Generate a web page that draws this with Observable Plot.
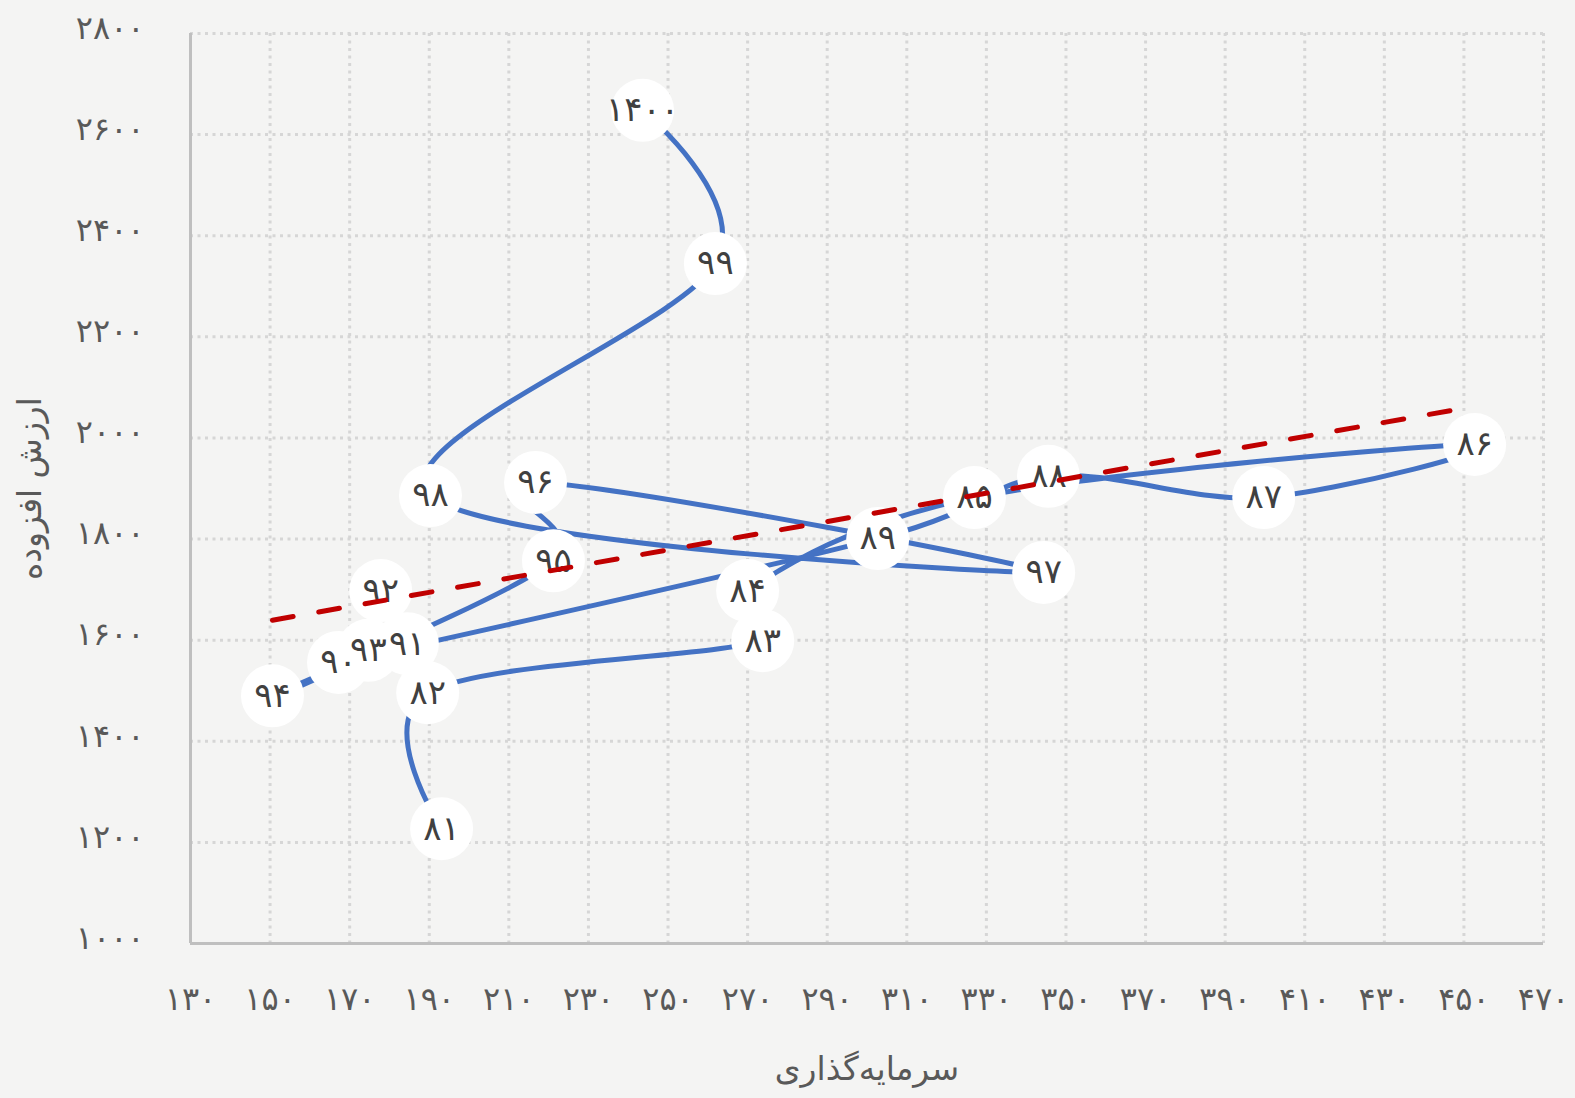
<!DOCTYPE html>
<html>
<head>
<meta charset="utf-8">
<script src="https://cdn.jsdelivr.net/npm/d3@7"></script>
<script src="https://cdn.jsdelivr.net/npm/@observablehq/plot@0.6"></script>
<style>
  html, body { margin: 0; padding: 0; background: #f4f4f3; }
  #chart svg { display: block; background: #f4f4f3; }
</style>
</head>
<body>
<div id="chart"></div>
<script>
// Year labels (Persian calendar)
const years = ["۸۱","۸۲","۸۳","۸۴","۸۵","۸۶","۸۷","۸۸","۸۹","۹۰","۹۱","۹۲","۹۳","۹۴","۹۵","۹۶","۹۷","۹۸","۹۹","۱۴۰۰"];
// سرمایه‌گذاری (x)
const investment = [193.1,189.6,273.8,270,327,452.7,399.7,345.6,302.7,167.2,184.5,177.8,174.7,150.6,221.2,216.7,344.4,190.3,261.9,243.6];
// ارزش افزوده (y)
const valueAdded = [1227,1496,1599,1698,1882,1987,1882,1924,1801,1556,1593,1698,1580,1490,1757,1912,1734,1886,2345,2648];
// axis ticks
const xTicks = [130,150,170,190,210,230,250,270,290,310,330,350,370,390,410,430,450,470];
const yTicks = [1000,1200,1400,1600,1800,2000,2200,2400,2600,2800];
const xTitle = "سرمایه‌گذاری";
const yTitle = "ارزش افزوده";

const fa = d => String(d).replace(/\d/g, c => "۰۱۲۳۴۵۶۷۸۹"[c]);
const data = years.map((t, i) => ({label: t, x: investment[i], y: valueAdded[i]}));
const FONT = "'DejaVu Sans', sans-serif";

const chart = Plot.plot({
  width: 1575,
  height: 1098,
  marginLeft: 190,
  marginRight: 32,
  marginTop: 33,
  marginBottom: 155,
  style: {background: "#f4f4f3", fontFamily: FONT},
  x: {domain: [130, 470], axis: null},
  y: {domain: [1000, 2800], axis: null},
  marks: [
    Plot.gridX(xTicks.slice(1), {stroke: "#d6d6d6", strokeOpacity: 1, strokeWidth: 3, strokeDasharray: "3,4.5"}),
    Plot.gridY(yTicks.slice(1), {stroke: "#d6d6d6", strokeOpacity: 1, strokeWidth: 3, strokeDasharray: "3,4.5"}),
    Plot.ruleX([130], {stroke: "#bfbfbf", strokeWidth: 3}),
    Plot.ruleY([1000], {stroke: "#bfbfbf", strokeWidth: 3}),
    Plot.text(xTicks, {x: d => d, frameAnchor: "bottom", dy: 66, text: fa, fontSize: 32, fill: "#595959"}),
    Plot.text(yTicks, {y: d => d, frameAnchor: "left", dx: -46, dy: -5, textAnchor: "end", text: fa, fontSize: 32, fill: "#595959"}),
    Plot.text([xTitle], {frameAnchor: "bottom", dy: 136, text: d => d, fontSize: 33, fill: "#595959"}),
    Plot.text([yTitle], {frameAnchor: "left", dx: -160, dy: 0, textAnchor: "middle", rotate: -90, text: d => d, fontSize: 33, fill: "#595959"}),
    Plot.line(data, {x: "x", y: "y", curve: "cardinal", stroke: "#4472c4", strokeWidth: 5}),
    Plot.dot(data, {x: "x", y: "y", r: 31.5, fill: "white", stroke: null}),
    Plot.text(data, {x: "x", y: "y", text: "label", fontSize: 34, fill: "#404040"}),
    Plot.linearRegressionY(data, {x: "x", y: "y", ci: 0, stroke: "#c00000", strokeWidth: 5, strokeDasharray: "21,26", strokeLinecap: "round"})
  ]
});
document.getElementById("chart").appendChild(chart);
</script>
</body>
</html>
